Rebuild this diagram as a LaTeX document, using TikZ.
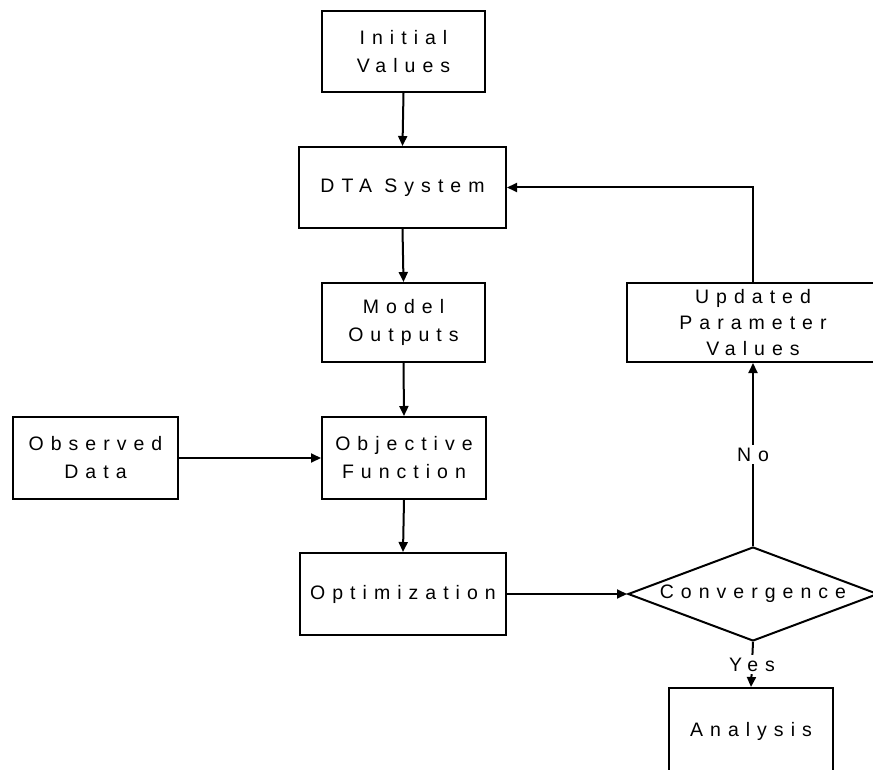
\documentclass[tikz,border=0pt]{standalone}
\usepackage{fontspec}
\setmainfont{Liberation Sans}[LetterSpace=36]
\usetikzlibrary{arrows.meta,shapes.geometric}
\tikzset{
  box/.style={draw=black, line width=2pt, inner sep=0pt, align=center, font=\fontsize{19.5}{28}\selectfont},
  conn/.style={line width=2pt, -{Triangle[length=10pt,width=9pt]}},
  lbl/.style={fill=white, inner sep=3pt, font=\fontsize{19.5}{28}\selectfont}
}
\begin{document}
\begin{tikzpicture}[x=1pt,y=-1pt]
\useasboundingbox (0,0) rectangle (873,770);
\clip (0,0) rectangle (873,770);
\node[box, minimum width=163pt, minimum height=81pt] (init) at (403.5,51.5) {Initial\\Values};
\node[box, minimum width=207pt, minimum height=81pt] (dta) at (402.5,187.5) {DTA System};
\node[box, minimum width=163pt, minimum height=79pt] (model) at (403.5,322.5) {Model\\Outputs};
\node[box, minimum width=164pt, minimum height=82pt] (obj) at (404,458) {Objective\\Function};
\node[box, minimum width=165pt, minimum height=82pt] (obs) at (95.5,458) {Observed\\Data};
\node[box, minimum width=206pt, minimum height=82pt] (opt) at (403,594) {Optimization};
\node[box, shape=diamond, aspect=2.66, minimum width=250pt, minimum height=94pt] (conv) at (753,594) {Convergence};
\node[box, minimum width=252pt, minimum height=79pt, font=\fontsize{19.5}{26}\selectfont] (upd) at (753,322.5) {Updated\\Parameter\\Values};
\node[box, minimum width=164pt, minimum height=86pt] (ana) at (751,731) {Analysis};

\draw[conn] (init.south) -- (dta.north);
\draw[conn] (dta.south) -- (model.north);
\draw[conn] (model.south) -- (obj.north);
\draw[conn] (obj.south) -- (opt.north);
\draw[conn] (obs.east) -- (obj.west);
\draw[conn] (opt.east) -- (conv.west);
\draw[conn] (conv.north) -- node[lbl] (no) {No} (upd.south);
\draw[conn] (upd.north) |- (dta.east);
\draw[conn] (conv.south) -- node[lbl] (yes) {Yes} (ana.north);
\end{tikzpicture}
\end{document}
